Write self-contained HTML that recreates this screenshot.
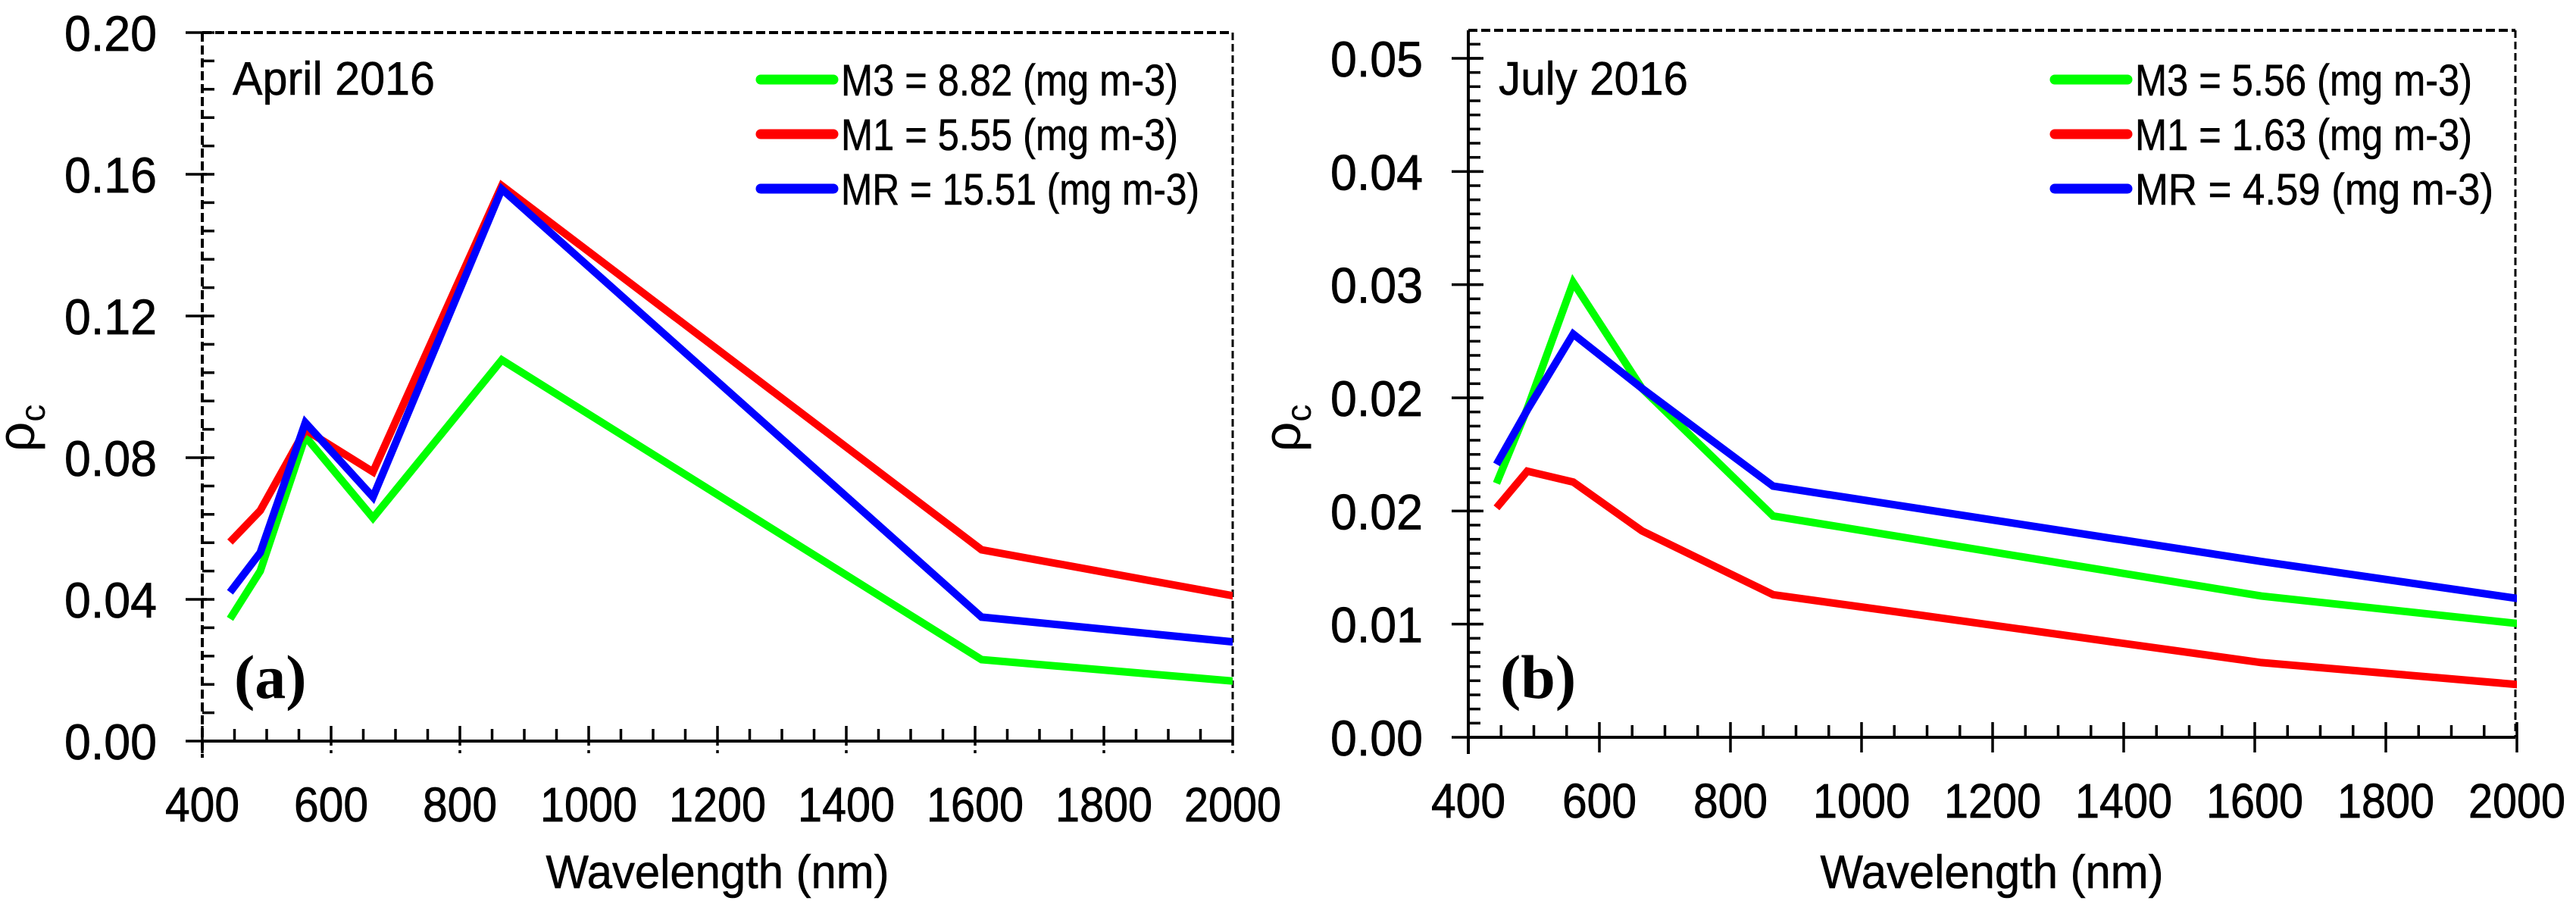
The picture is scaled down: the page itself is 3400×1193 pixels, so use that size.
<!DOCTYPE html>
<html><head><meta charset="utf-8"><style>
html,body{margin:0;padding:0;background:#fff}
svg{display:block}
text{font-family:"Liberation Sans",sans-serif;fill:#000}
</style></head><body>
<svg id="fig" width="3400" height="1193" viewBox="0 0 3400 1193" xmlns="http://www.w3.org/2000/svg">
<defs>
<clipPath id="clipL"><rect x="267" y="30" width="1360" height="948"/></clipPath>
<clipPath id="clipR"><rect x="1938" y="30" width="1384" height="943"/></clipPath>
</defs>
</svg>
<script>
const wavelengths = [443, 490, 560, 665, 865, 1610, 2190];
const aprilM3 = [0.0345, 0.048, 0.086, 0.063, 0.1076, 0.023, 0.014];
const aprilM1 = [0.0562, 0.0651, 0.0879, 0.076, 0.1568, 0.054, 0.0347];
const aprilMR = [0.042, 0.0532, 0.0899, 0.0689, 0.1558, 0.035, 0.0246];
const julyM3 = [0.0187, 0.0242, 0.0335, 0.0257, 0.0163, 0.0104, 0.0074];
const julyM1 = [0.0169, 0.0196, 0.0188, 0.0152, 0.0105, 0.0055, 0.0031];
const julyMR = [0.0201, 0.0241, 0.0297, 0.0257, 0.0185, 0.01295, 0.0089];
const xTicks = [400, 600, 800, 1000, 1200, 1400, 1600, 1800, 2000];
const aprilYTicks = [0, 0.04, 0.08, 0.12, 0.16, 0.20];
const aprilYLabels = ["0.00", "0.04", "0.08", "0.12", "0.16", "0.20"];
const julyYTicks = [0, 0.05/6, 0.1/6, 0.15/6, 0.2/6, 0.25/6, 0.05];
const julyYLabels = ["0.00", "0.01", "0.02", "0.02", "0.03", "0.04", "0.05"];
const aprilLegend = ["M3 = 8.82 (mg m-3)", "M1 = 5.55 (mg m-3)", "MR = 15.51 (mg m-3)"];
const julyLegend = ["M3 = 5.56 (mg m-3)", "M1 = 1.63 (mg m-3)", "MR = 4.59 (mg m-3)"];

const NS = "http://www.w3.org/2000/svg";
const svg = document.getElementById("fig");
function mk(tag, attrs, parent) {
  const e = document.createElementNS(NS, tag);
  for (const k in attrs) e.setAttribute(k, attrs[k]);
  (parent || svg).appendChild(e);
  return e;
}
function txt(str, attrs, parent) { const t = mk("text", attrs, parent); t.textContent = str; return t; }

const colors = ["#00ff00", "#ff0000", "#0000ff"];
const seriesNames = ["m3", "m1", "mr"];

function drawChart(cfg) {
  const g = mk("g", {});
  
  
  const xs = w => cfg.x0 + (w - 400) * cfg.xScale;
  const ys = v => cfg.y0 - v * cfg.yScale;
  const top = mk("line", {x1: cfg.x0, y1: cfg.top, x2: cfg.xEnd, y2: cfg.top, stroke: "#000", "stroke-width": 4, "stroke-dasharray": "12 5"}, g);
  
  
  const rt = mk("line", {x1: cfg.xEnd, y1: cfg.top, x2: cfg.xEnd, y2: cfg.y0, stroke: "#000", "stroke-width": 3, "stroke-dasharray": "10 5"}, g);
  
  
  const ya = mk("line", {x1: cfg.x0, y1: cfg.top, x2: cfg.x0, y2: cfg.y0 + 22, stroke: "#000", "stroke-width": 4, "stroke-dasharray": cfg.dashedY ? "12 5" : "none"}, g);
  
  
  const yMax = cfg.yTicks[cfg.yTicks.length - 1];
  const majorStep = cfg.yTicks[1] - cfg.yTicks[0];
  const minorStep = majorStep / cfg.yMinor;
  const yLimit = (cfg.y0 - cfg.top) / cfg.yScale;
  for (let v = minorStep; v <= yLimit + 1e-9; v += minorStep) {
    const m = mk("line", {x1: cfg.x0, y1: ys(v), x2: cfg.x0 + 16, y2: ys(v), stroke: "#000", "stroke-width": 3.5}, g);
    
    
  }
  cfg.yTicks.forEach((v, i) => {
    const t = mk("line", {x1: cfg.x0 - 22, y1: ys(v), x2: cfg.x0 + (cfg.dashedY ? 6 : 20), y2: ys(v), stroke: "#000", "stroke-width": 3.5}, g);
    
    
    const l = txt(cfg.yLabels[i], {x: cfg.x0 - 60, y: ys(v) + 24, "text-anchor": "end", "font-size": 66, textLength: 122, lengthAdjust: "spacingAndGlyphs", stroke: "#000", "stroke-width": 0.8}, g);
    
    
  });
  const xa = mk("line", {x1: cfg.x0, y1: cfg.y0, x2: cfg.xEnd, y2: cfg.y0, stroke: "#000", "stroke-width": 4}, g);
  
  
  for (let w = 450; w < 2000; w += 50) {
    if (w % 200 === 0) continue;
    const m = mk("line", {x1: xs(w), y1: cfg.y0, x2: xs(w), y2: cfg.y0 - 16, stroke: "#000", "stroke-width": 3.5}, g);
    
    
  }
  xTicks.forEach(w => {
    const t = mk("line", {x1: xs(w), y1: cfg.y0 - 20, x2: xs(w), y2: cfg.y0 + 20, stroke: "#000", "stroke-width": 3.5, "stroke-dasharray": cfg.dashedY ? "26 6 4 6" : "none"}, g);
    
    
    const l = txt(String(w), {x: xs(w), y: cfg.y0 + 106, "text-anchor": "middle", "font-size": 64, textLength: w >= 1000 ? 128 : 98, lengthAdjust: "spacingAndGlyphs", stroke: "#000", "stroke-width": 0.8}, g);
    
    
  });
  const xt = txt("Wavelength (nm)", {x: (cfg.x0 + cfg.xEnd) / 2, y: 1172, "text-anchor": "middle", "font-size": 62, textLength: 453, lengthAdjust: "spacingAndGlyphs", stroke: "#000", "stroke-width": 0.6}, g);
  
  
  const yt = mk("text", {transform: `translate(${cfg.x0 - 222},${565}) rotate(-90)`, "text-anchor": "middle", "font-size": 70}, g);
  
  
  yt.textContent = "ρ";
  const sub = mk("tspan", {"font-size": 46, dy: 14}, yt);
  sub.textContent = "c";
  const tt = txt(cfg.title, {x: cfg.x0 + 40, y: 125, "font-size": 62, textLength: cfg.titleLen, lengthAdjust: "spacingAndGlyphs", stroke: "#000", "stroke-width": 0.6}, g);
  
  
  const pl = txt(cfg.panel, {x: cfg.x0 + 42, y: 921, "font-size": 82, "font-weight": "bold", style: "font-family:'Liberation Serif',serif"}, g);
  
  
  const sg = mk("g", {"clip-path": `url(#${cfg.clip})`}, g);
  cfg.series.forEach((arr, si) => {
    const pts = wavelengths.map((w, i) => xs(w).toFixed(1) + "," + ys(arr[i]).toFixed(1)).join(" ");
    const pl2 = mk("polyline", {points: pts, fill: "none", stroke: colors[si], "stroke-width": 10, "stroke-linejoin": "miter"}, sg);
    
    
  });
  const rowsY = [105, 177, 249];
  cfg.legend.forEach((lab, i) => {
    const ln = mk("line", {x1: cfg.legX, y1: rowsY[i], x2: cfg.legX + 96, y2: rowsY[i], stroke: colors[i], "stroke-width": 13, "stroke-linecap": "round"}, g);
    
    
    const lt = txt(lab, {x: cfg.legX + 106, y: rowsY[i] + 21, "font-size": 58, textLength: i === 2 ? cfg.legLen + 28 : cfg.legLen, lengthAdjust: "spacingAndGlyphs", stroke: "#000", "stroke-width": 0.6}, g);
    
    
  });
}

drawChart({name: "chart-april-2016", x0: 267, xEnd: 1627, xScale: 0.85, y0: 978, yScale: 4675, top: 43,
  yTicks: aprilYTicks, yLabels: aprilYLabels, yMinor: 5, dashedY: true, title: "April 2016", titleLen: 267,
  panel: "(a)", series: [aprilM3, aprilM1, aprilMR], legend: aprilLegend, legX: 1004, legLen: 445, clip: "clipL"});
drawChart({name: "chart-july-2016", x0: 1938, xEnd: 3320, xScale: 0.865, y0: 973, yScale: 17920, top: 40,
  yTicks: julyYTicks, yLabels: julyYLabels, yMinor: 8, dashedY: false, title: "July 2016", titleLen: 250,
  panel: "(b)", series: [julyM3, julyM1, julyMR], legend: julyLegend, legX: 2712, legLen: 445, clip: "clipR"});
</script>
</body></html>
